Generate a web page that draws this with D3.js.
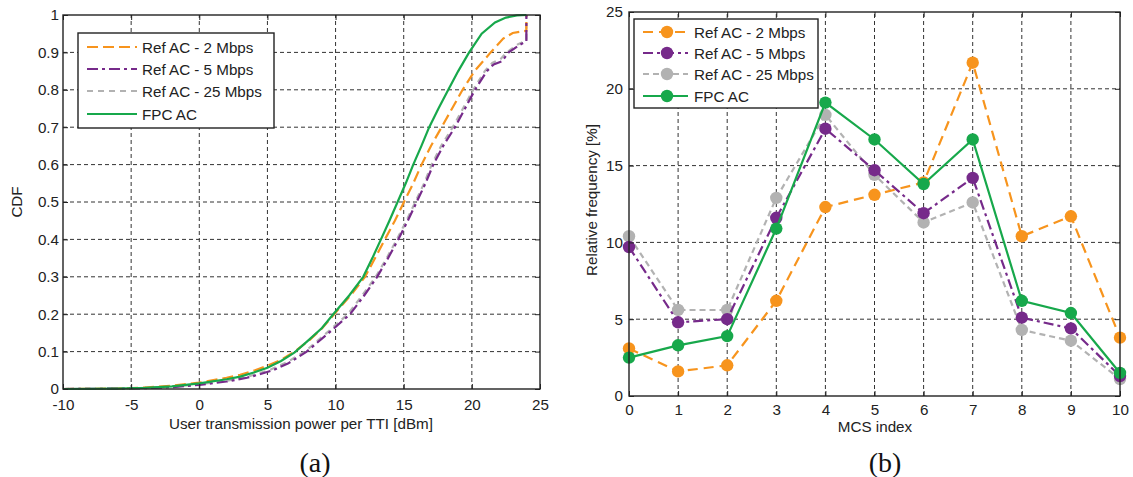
<!DOCTYPE html>
<html>
<head>
<meta charset="utf-8">
<script src="https://cdn.jsdelivr.net/npm/d3@7/dist/d3.min.js"></script>
<style>
  html, body { margin: 0; padding: 0; background: #fff; }
  svg { display: block; font-family: "Liberation Sans", Arial, sans-serif; }
</style>
</head>
<body>
<svg id="chart" width="1133" height="477"></svg>
<script>
// ---------- (a) CDF of user transmission power per TTI ----------
const cdfTicksX = [-10, -5, 0, 5, 10, 15, 20, 25];
const cdfTicksY = [0, 0.1, 0.2, 0.3, 0.4, 0.5, 0.6, 0.7, 0.8, 0.9, 1];

// [power dBm, CDF]
const cdfRef2 = [[-10,0],[-6,0.001],[-4,0.004],[-2,0.009],[0,0.017],[2,0.03],[3,0.038],[4,0.049],[5,0.062],[6,0.078],[7,0.1],[8,0.128],[9,0.162],[9.9,0.2],[11.1,0.25],[12.16,0.3],[12.9,0.35],[13.62,0.4],[14.35,0.45],[15.02,0.5],[15.7,0.55],[16.31,0.6],[17.0,0.65],[17.78,0.7],[18.55,0.75],[19.32,0.8],[20.2,0.85],[21.38,0.9],[22.3,0.937],[23.0,0.952],[24,0.958],[24,1]];
const cdfRef5 = [[-10,0],[-6,0.001],[-4,0.002],[-2,0.005],[0,0.011],[2,0.02],[3.5,0.03],[4.5,0.04],[5.4,0.05],[6.5,0.068],[7.88,0.1],[9.5,0.15],[11.06,0.2],[12.1,0.25],[13.05,0.3],[13.85,0.35],[14.6,0.4],[15.3,0.45],[15.95,0.5],[16.6,0.55],[17.17,0.6],[17.9,0.65],[18.76,0.7],[19.5,0.75],[20.23,0.8],[21.1,0.85],[21.6,0.868],[22.2,0.876],[22.7,0.9],[23.5,0.92],[24,0.93],[24,1]];
const cdfRef25 = [[-10,0],[-6,0.001],[-4,0.003],[-2,0.006],[0,0.013],[2,0.022],[3.4,0.032],[4.4,0.042],[5.25,0.052],[6.35,0.07],[7.75,0.1],[9.35,0.15],[10.9,0.2],[11.95,0.25],[12.95,0.3],[13.75,0.35],[14.5,0.4],[15.2,0.45],[15.85,0.5],[16.5,0.55],[17.05,0.6],[17.75,0.65],[18.6,0.7],[19.35,0.75],[20.1,0.8],[20.95,0.85],[21.5,0.872],[22.1,0.882],[22.55,0.9],[23.4,0.922],[24,0.932],[24,1]];
const cdfFpc = [[-10,0],[-6,0.001],[-4,0.003],[-2,0.007],[0,0.015],[2,0.026],[3,0.033],[4,0.044],[5,0.057],[6,0.075],[7,0.098],[8,0.13],[9,0.163],[9.83,0.2],[11,0.25],[12.03,0.3],[12.7,0.35],[13.33,0.4],[13.95,0.45],[14.55,0.5],[15.15,0.55],[15.7,0.6],[16.3,0.65],[16.87,0.7],[17.55,0.75],[18.27,0.8],[19.0,0.85],[19.8,0.9],[20.72,0.95],[21.7,0.98],[22.5,0.993],[23.3,0.999],[24,1]];

// ---------- (b) MCS index distribution ----------
const mcsIndex = [0, 1, 2, 3, 4, 5, 6, 7, 8, 9, 10];
const freqTicksY = [0, 5, 10, 15, 20, 25];
const freqRef2  = [3.1, 1.6, 2.0, 6.2, 12.3, 13.1, 13.9, 21.7, 10.4, 11.7, 3.8];
const freqRef5  = [9.7, 4.8, 5.0, 11.6, 17.4, 14.7, 11.9, 14.2, 5.1, 4.4, 1.3];
const freqRef25 = [10.4, 5.6, 5.6, 12.9, 18.3, 14.4, 11.3, 12.6, 4.3, 3.6, 1.1];
const freqFpc   = [2.5, 3.3, 3.9, 10.9, 19.1, 16.7, 13.8, 16.7, 6.2, 5.4, 1.5];

const seriesNames = ["Ref AC - 2 Mbps", "Ref AC - 5 Mbps", "Ref AC - 25 Mbps", "FPC AC"];

const styles = {
  ref2:  { color: "#F7941D", dashA: "11,5",       dashB: "10,6" },
  ref5:  { color: "#762A8A", dashA: "11,4,3,4",   dashB: "10,4,3,4" },
  ref25: { color: "#B2B2B2", dashA: "6,5",        dashB: "6,4" },
  fpc:   { color: "#17A84B", dashA: null,         dashB: null }
};

const FS = 15.2;
const svg = d3.select("#chart");
const gridColor = "#333";

function frame(g, x, y, xTicks, yTicks) {
  const [x0, x1] = x.range();
  const [y0, y1] = y.range();
  // dashed grid at inner ticks
  g.append("g").selectAll("line.gx")
    .data(xTicks.slice(1, -1)).join("line")
    .attr("x1", d => x(d)).attr("x2", d => x(d))
    .attr("y1", y0).attr("y2", y1)
    .attr("stroke", gridColor).attr("stroke-width", 1).attr("stroke-dasharray", "4,3");
  g.append("g").selectAll("line.gy")
    .data(yTicks.slice(1, -1)).join("line")
    .attr("y1", d => y(d)).attr("y2", d => y(d))
    .attr("x1", x0).attr("x2", x1)
    .attr("stroke", gridColor).attr("stroke-width", 1).attr("stroke-dasharray", "4,3");
}

function axes(g, x, y, xTicks, yTicks, xPad, yPad) {
  const [x0, x1] = x.range();
  const [y0, y1] = y.range();
  const fmt = d => String(d);
  const styleAxis = sel => {
    sel.select(".domain").remove();
    sel.selectAll(".tick line").attr("stroke", "#222");
    sel.selectAll("text").attr("font-size", FS).attr("fill", "#222")
      .attr("font-family", "Liberation Sans, Arial, sans-serif");
  };
  g.append("g").attr("transform", `translate(0,${y0})`)
    .call(d3.axisBottom(x).tickValues(xTicks).tickFormat(fmt).tickSizeInner(-5).tickSizeOuter(0).tickPadding(xPad))
    .call(styleAxis);
  g.append("g").attr("transform", `translate(0,${y1})`)
    .call(d3.axisTop(x).tickValues(xTicks).tickFormat("").tickSizeInner(-5).tickSizeOuter(0))
    .call(styleAxis);
  g.append("g").attr("transform", `translate(${x0},0)`)
    .call(d3.axisLeft(y).tickValues(yTicks).tickFormat(fmt).tickSizeInner(-5).tickSizeOuter(0).tickPadding(yPad))
    .call(styleAxis);
  g.append("g").attr("transform", `translate(${x1},0)`)
    .call(d3.axisRight(y).tickValues(yTicks).tickFormat("").tickSizeInner(-5).tickSizeOuter(0))
    .call(styleAxis);
  g.append("rect")
    .attr("x", x0).attr("y", y1).attr("width", x1 - x0).attr("height", y0 - y1)
    .attr("fill", "none").attr("stroke", "#222").attr("stroke-width", 1.4);
}

// ---------- panel (a) ----------
{
  const x = d3.scaleLinear().domain([-10, 25]).range([63, 540]);
  const y = d3.scaleLinear().domain([0, 1]).range([389, 15]);
  const g = svg.append("g");
  frame(g, x, y, cdfTicksX, cdfTicksY);

  const line = d3.line().x(d => x(d[0])).y(d => y(d[1]));
  const curves = [
    { data: cdfRef25, s: styles.ref25 },
    { data: cdfRef2,  s: styles.ref2 },
    { data: cdfRef5,  s: styles.ref5 },
    { data: cdfFpc,   s: styles.fpc }
  ];
  g.append("g").selectAll("path").data(curves).join("path")
    .attr("d", d => line(d.data))
    .attr("fill", "none")
    .attr("stroke", d => d.s.color)
    .attr("stroke-width", 2.2)
    .attr("stroke-dasharray", d => d.s.dashA);

  axes(g, x, y, cdfTicksX, cdfTicksY, 10, 4);

  g.append("text").attr("x", 301).attr("y", 429).attr("text-anchor", "middle")
    .attr("font-size", FS).attr("fill", "#222").text("User transmission power per TTI [dBm]");
  g.append("text").attr("transform", "translate(22,202) rotate(-90)").attr("text-anchor", "middle")
    .attr("font-size", FS).attr("fill", "#222").text("CDF");
  g.append("text").attr("x", 315).attr("y", 472).attr("text-anchor", "middle")
    .attr("font-family", "Liberation Serif, Times New Roman, serif").attr("font-size", 28).attr("fill", "#111").text("(a)");

  // legend
  const lg = g.append("g");
  lg.append("rect").attr("x", 78).attr("y", 33).attr("width", 196).attr("height", 95)
    .attr("fill", "#fff").attr("stroke", "#222").attr("stroke-width", 1.4);
  const keys = [styles.ref2, styles.ref5, styles.ref25, styles.fpc];
  const rowsY = [47, 69, 91, 114];
  keys.forEach((s, i) => {
    lg.append("line").attr("x1", 87).attr("x2", 137).attr("y1", rowsY[i]).attr("y2", rowsY[i])
      .attr("stroke", s.color).attr("stroke-width", 2.2).attr("stroke-dasharray", s.dashA);
    lg.append("text").attr("x", 142).attr("y", rowsY[i] + 5.5).attr("font-size", FS).attr("fill", "#222")
      .text(seriesNames[i]);
  });
}

// ---------- panel (b) ----------
{
  const x = d3.scaleLinear().domain([0, 10]).range([629, 1120]);
  const y = d3.scaleLinear().domain([0, 25]).range([396, 12]);
  const g = svg.append("g");
  frame(g, x, y, mcsIndex, freqTicksY);

  const line = d3.line().x((d, i) => x(mcsIndex[i])).y(d => y(d));
  const series = [
    { data: freqRef25, s: styles.ref25 },
    { data: freqRef2,  s: styles.ref2 },
    { data: freqRef5,  s: styles.ref5 },
    { data: freqFpc,   s: styles.fpc }
  ];
  series.forEach(sr => {
    g.append("path").attr("d", line(sr.data))
      .attr("fill", "none").attr("stroke", sr.s.color).attr("stroke-width", 2.2)
      .attr("stroke-dasharray", sr.s.dashB);
    g.append("g").selectAll("circle").data(sr.data).join("circle")
      .attr("cx", (d, i) => x(mcsIndex[i])).attr("cy", d => y(d)).attr("r", 6.2)
      .attr("fill", sr.s.color);
  });

  axes(g, x, y, mcsIndex, freqTicksY, 8, 6);

  g.append("text").attr("x", 875).attr("y", 432).attr("text-anchor", "middle")
    .attr("font-size", FS).attr("fill", "#222").text("MCS index");
  g.append("text").attr("transform", "translate(597,200) rotate(-90)").attr("text-anchor", "middle")
    .attr("font-size", FS).attr("fill", "#222").text("Relative frequency [%]");
  g.append("text").attr("x", 885).attr("y", 472).attr("text-anchor", "middle")
    .attr("font-family", "Liberation Serif, Times New Roman, serif").attr("font-size", 28).attr("fill", "#111").text("(b)");

  // legend
  const lg = g.append("g");
  lg.append("rect").attr("x", 634).attr("y", 19).attr("width", 184).attr("height", 89)
    .attr("fill", "#fff").attr("stroke", "#222").attr("stroke-width", 1.4);
  const keys = [styles.ref2, styles.ref5, styles.ref25, styles.fpc];
  const rowsY = [32, 53, 74, 96];
  keys.forEach((s, i) => {
    lg.append("line").attr("x1", 643).attr("x2", 688).attr("y1", rowsY[i]).attr("y2", rowsY[i])
      .attr("stroke", s.color).attr("stroke-width", 2.2).attr("stroke-dasharray", s.dashB);
    lg.append("circle").attr("cx", 667).attr("cy", rowsY[i]).attr("r", 6.2).attr("fill", s.color);
    lg.append("text").attr("x", 694).attr("y", rowsY[i] + 5.5).attr("font-size", FS).attr("fill", "#222")
      .text(seriesNames[i]);
  });
}
</script>
</body>
</html>
